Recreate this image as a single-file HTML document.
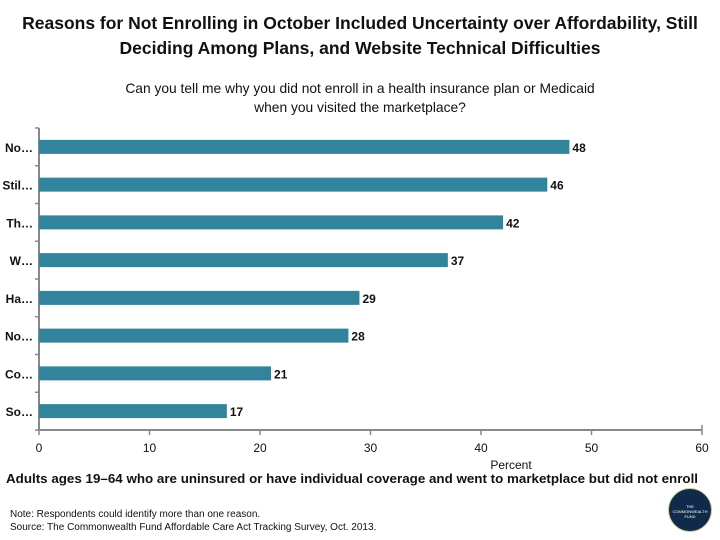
<!DOCTYPE html>
<html><head><meta charset="utf-8"><style>
body{margin:0;width:720px;height:540px;background:#fff;font-family:"Liberation Sans",sans-serif;overflow:hidden}
.t{position:absolute;left:0;width:720px;text-align:center;font-weight:bold}
</style></head><body>
<div class="t" style="top:11px;font-size:17.5px;line-height:25px;color:#111">Reasons for Not Enrolling in October Included Uncertainty over Affordability, Still<br>Deciding Among Plans, and Website Technical Difficulties</div>
<div class="t" style="top:79px;font-size:13.8px;line-height:19px;font-weight:normal;color:#111">Can you tell me why you did not enroll in a health insurance plan or Medicaid<br>when you visited the marketplace?</div>
<svg id="c" width="720" height="540" style="position:absolute;left:0;top:0"></svg>
<div style="position:absolute;left:10px;top:508px;font-size:10px;line-height:13px;color:#111">Note: Respondents could identify more than one reason.<br>Source: The Commonwealth Fund Affordable Care Act Tracking Survey, Oct. 2013.</div>
<div style="position:absolute;left:668px;top:488px;width:44px;height:44px;border-radius:50%;background:#0f2a4a;border:1px solid #c8c890;color:#fff;font-size:4px;text-align:center;line-height:5px;box-sizing:border-box;padding-top:15px">THE<br>COMMONWEALTH<br>FUND</div>
<script>
const categories=["No…","Stil…","Th…","W…","Ha…","No…","Co…","So…"];
const values=[48,46,42,37,29,28,21,17];
const ticks=[0,10,20,30,40,50,60];
const NS="http://www.w3.org/2000/svg";
const svg=document.getElementById('c');
const x0=39,x1=702,yTop=128,yBot=430,xmax=60;
const xs=v=>x0+v/xmax*(x1-x0);
const band=(yBot-yTop)/categories.length;
function mk(t,a,txt){const e=document.createElementNS(NS,t);for(const k in a)e.setAttribute(k,a[k]);if(txt!=null)e.textContent=txt;svg.appendChild(e);return e;}
let e;
e=mk('line',{x1:x0,y1:yTop,x2:x0,y2:yBot,stroke:'#888','stroke-width':2});

e=mk('line',{x1:x0,y1:yBot,x2:x1,y2:yBot,stroke:'#888','stroke-width':2});

for(let i=0;i<=categories.length;i++){const y=yTop+i*band;mk('line',{x1:x0-4,y1:y,x2:x0,y2:y,stroke:'#888','stroke-width':1.5});}
ticks.forEach(t=>{const x=xs(t);mk('line',{x1:x,y1:yBot,x2:x,y2:yBot+5,stroke:'#888','stroke-width':1.5});
e=mk('text',{x:x,y:yBot+22,'text-anchor':'middle','font-size':12,fill:'#111'},t);
});
mk('line',{x1:x1,y1:yBot,x2:x1,y2:yBot-5,stroke:'#888','stroke-width':1.5});
categories.forEach((c,i)=>{const yc=yTop+(i+0.5)*band;
e=mk('rect',{x:x0,y:yc-7,width:xs(values[i])-x0,height:14,fill:'#31849b'});

e=mk('text',{x:xs(values[i])+3,y:yc+5,'font-size':12,'font-weight':'bold',fill:'#111'},values[i]);

e=mk('text',{x:33,y:yc+5,'text-anchor':'end','font-size':12,'font-weight':'bold',fill:'#111'},c);
});
e=mk('text',{x:511,y:469,'text-anchor':'middle','font-size':12,fill:'#111'},'Percent');

e=mk('text',{x:352,y:483,'text-anchor':'middle','font-size':13,'font-weight':'bold',fill:'#111',textLength:692,lengthAdjust:'spacingAndGlyphs'},'Adults ages 19–64 who are uninsured or have individual coverage and went to marketplace but did not enroll');

</script>
</body></html>
